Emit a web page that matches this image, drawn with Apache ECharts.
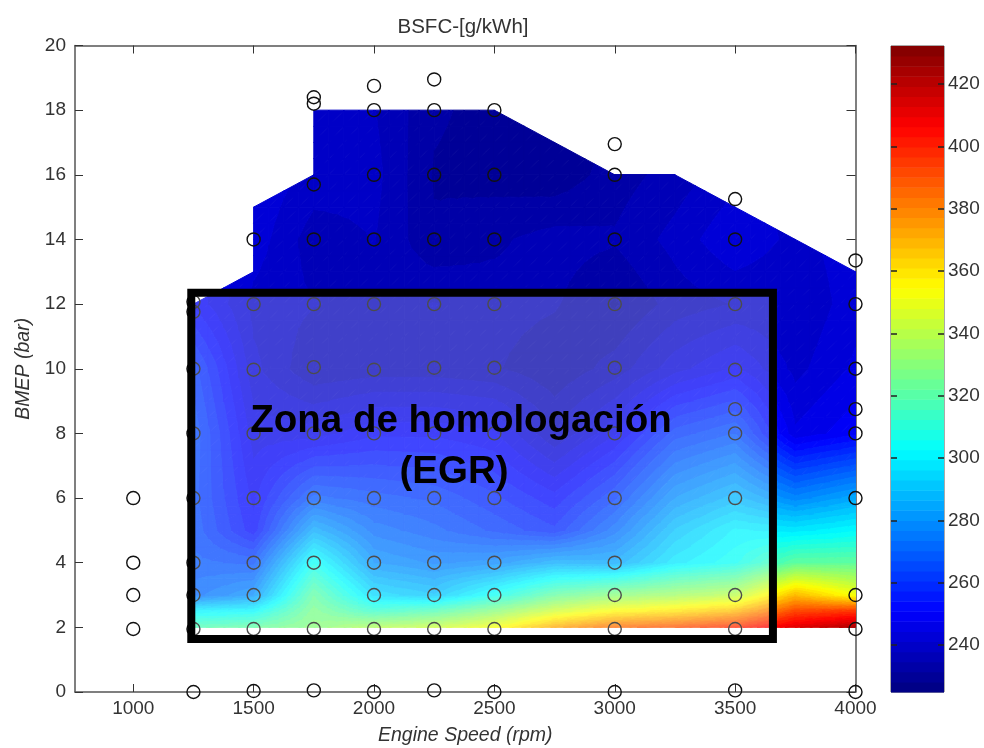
<!DOCTYPE html>
<html>
<head>
<meta charset="utf-8">
<style>
html,body{margin:0;padding:0;background:#fff}
#chart{width:984px;height:748px;filter:blur(0.45px)}
</style>
<script src="https://cdn.jsdelivr.net/npm/echarts@6/dist/echarts.min.js"></script>
</head>
<body>
<div id="chart"></div>
<script>
// ---------- axis ticks ----------
var speedTicks = [1000, 1500, 2000, 2500, 3000, 3500, 4000];
var colorTicks = [240, 260, 280, 300, 320, 340, 360, 380, 400, 420];
var colorMin = 224.9, colorMax = 432.2;

// ---------- BSFC surface, g/kWh ----------
var surfaceSpeeds = [1250, 1500, 1750, 2000, 2250, 2500, 2750, 3000, 3250, 3500, 3750, 4000];
var surfaceBmep   = [2, 2.5, 3, 4, 5, 6, 8, 10, 12, 14, 16, 18];
var bsfcAt2   = [318, 322, 330, 338, 343, 352, 372, 385, 390, 398, 412, 422];
var bsfcAt2_5 = [300, 302, 327, 313, 318, 330, 345, 355, 360, 368, 392, 395];
var bsfcAt3   = [272, 280, 322, 295, 290, 305, 322, 330, 335, 340, 368, 352];
var bsfcAt4   = [268, 266, 305, 280, 276, 278, 285, 284, 298, 305, 322, 322];
var bsfcAt5   = [266, 252, 285, 272, 268, 263, 258, 272, 290, 300, 298, 302];
var bsfcAt6   = [265, 250, 268, 265, 263, 258, 252, 263, 280, 288, 278, 285];
var bsfcAt8   = [266, 246, 246, 250, 250, 248, 238, 247, 262, 267, 245, 250];
var bsfcAt10  = [262, 242, 235, 236, 236, 235, 232, 236, 243, 248, 240, 245];
var bsfcAt12  = [250, 240, 238, 237, 238, 236, 235, 231, 236, 238, 238, 243];
var bsfcAt14  = [248, 243, 236, 238, 232, 234, 236, 235, 239, 244, 240, 243];
var bsfcAt16  = [248, 244, 240, 239, 231, 230, 229, 233, 236, 240, 240, 243];
var bsfcAt18  = [245, 244, 240, 238, 232, 230, 229, 231, 236, 240, 240, 243];
var surfaceRows = [bsfcAt2, bsfcAt2_5, bsfcAt3, bsfcAt4, bsfcAt5, bsfcAt6, bsfcAt8, bsfcAt10, bsfcAt12, bsfcAt14, bsfcAt16, bsfcAt18];

// full-load limit of the mapped area: bmep at the left and right end of each surface column
var limitLeft  = [12, 15, 18, 18, 18, 18, 17, 16, 16, 15, 14];
var limitRight = [13, 16, 18, 18, 18, 17, 16, 16, 15, 14, 13];

// ---------- measured operating points ----------
var pointsAt1000 = [1.95, 3, 4, 6];
var pointsAt1250 = [0, 1.95, 3, 4, 6, 8, 10, 11.76, 12.07];
var pointsAt1500 = [0.03, 1.95, 3, 4, 6, 8, 9.97, 12, 14];
var pointsAt1750 = [0.05, 1.95, 4, 6, 8, 10.05, 12, 14, 15.7, 18.2, 18.4];
var pointsAt2000 = [0, 1.95, 3, 4, 6, 8, 9.97, 12, 14, 16, 18, 18.75];
var pointsAt2250 = [0.05, 1.95, 3, 4, 6, 8, 10.03, 12, 14, 16, 18, 18.95];
var pointsAt2500 = [0, 1.95, 3, 4, 6, 8, 10.03, 12, 14, 16, 18];
var pointsAt3000 = [0, 1.95, 3, 4, 6, 8, 10.03, 12, 14, 16, 16.95];
var pointsAt3500 = [0.05, 1.95, 3, 6, 8, 8.75, 9.97, 12, 14, 15.25];
var pointsAt4000 = [0, 1.95, 3, 6, 8, 8.75, 10, 12, 13.35];
var pointSpeeds = [1000, 1250, 1500, 1750, 2000, 2250, 2500, 3000, 3500, 4000];
var pointColumns = [pointsAt1000, pointsAt1250, pointsAt1500, pointsAt1750, pointsAt2000, pointsAt2250, pointsAt2500, pointsAt3000, pointsAt3500, pointsAt4000];

// homologation zone outline: speed from, speed to, bmep from, bmep to
var zone = [1241, 3657, 1.64, 12.35];

// ---------- colour map ----------
var levels = 64;
function clamp01(a) { return a < 0 ? 0 : a > 1 ? 1 : a; }
function jet(t) {
  return 'rgb(' + Math.round(255 * clamp01(1.5 - Math.abs(4 * t - 3))) + ',' +
    Math.round(255 * clamp01(1.5 - Math.abs(4 * t - 2))) + ',' +
    Math.round(255 * clamp01(1.5 - Math.abs(4 * t - 1))) + ')';
}
var levelStep = (colorMax - colorMin) / levels;
function levelColor(k) { return jet((k + 0.5) / levels); }

// ---------- polygon clipping by a linear function ----------
function clipPoly(poly, f) {
  var out = [];
  for (var i = 0; i < poly.length; i++) {
    var a = poly[i], b = poly[(i + 1) % poly.length];
    var fa = f(a), fb = f(b);
    if (fa >= 0) out.push(a);
    if ((fa >= 0) !== (fb >= 0)) {
      var s = fa / (fa - fb);
      out.push([a[0] + s * (b[0] - a[0]), a[1] + s * (b[1] - a[1]), a[2] + s * (b[2] - a[2])]);
    }
  }
  return out;
}

// ---------- data items for the series ----------
var cellData = [];
for (var j = 0; j < surfaceBmep.length - 1; j++) {
  for (var i = 0; i < surfaceSpeeds.length - 1; i++) {
    cellData.push([surfaceSpeeds[i], surfaceSpeeds[i + 1], surfaceBmep[j], surfaceBmep[j + 1],
      surfaceRows[j][i], surfaceRows[j][i + 1], surfaceRows[j + 1][i], surfaceRows[j + 1][i + 1],
      limitLeft[i], limitRight[i]]);
  }
}
var pointData = [];
pointSpeeds.forEach(function (s, c) {
  pointColumns[c].forEach(function (b) { pointData.push([s, b]); });
});
var barData = [];
for (var k = 0; k < levels; k++) barData.push([k]);

var subdiv = 4;
function renderCell(params, api) {
  var x0 = api.value(0), x1 = api.value(1), y0 = api.value(2), y1 = api.value(3);
  var v00 = api.value(4), v10 = api.value(5), v01 = api.value(6), v11 = api.value(7);
  var topL = api.value(8), topR = api.value(9);
  var topF = function (p) { return topL + (topR - topL) * (p[0] - x0) / (x1 - x0) - p[1]; };
  function vert(a, b) {
    var s = a / subdiv, t = b / subdiv;
    return [x0 + s * (x1 - x0), y0 + t * (y1 - y0),
      (1 - s) * (1 - t) * v00 + s * (1 - t) * v10 + (1 - s) * t * v01 + s * t * v11];
  }
  var children = [];
  function addTri(tri) {
    var poly = clipPoly(tri, topF);
    if (poly.length < 3) return;
    var vs = poly.map(function (p) { return p[2]; });
    var kLo = Math.max(0, Math.floor((Math.min.apply(null, vs) - colorMin) / levelStep));
    var kHi = Math.min(levels - 1, Math.floor((Math.max.apply(null, vs) - colorMin) / levelStep));
    for (var k = kLo; k <= kHi; k++) {
      var lo = colorMin + k * levelStep, hi = lo + levelStep;
      var band = clipPoly(clipPoly(poly, function (p) { return p[2] - lo; }), function (p) { return hi - p[2]; });
      if (band.length < 3) continue;
      var col = levelColor(k);
      children.push({
        type: 'polygon',
        shape: { points: band.map(function (p) { return api.coord([p[0], p[1]]); }) },
        style: { fill: col, stroke: col, lineWidth: 1 }
      });
    }
  }
  for (var a = 0; a < subdiv; a++) {
    for (var b = 0; b < subdiv; b++) {
      addTri([vert(a, b), vert(a + 1, b), vert(a + 1, b + 1)]);
      addTri([vert(a, b), vert(a + 1, b + 1), vert(a, b + 1)]);
    }
  }
  return { type: 'group', children: children };
}

function renderBar(params, api) {
  var k = api.value(0);
  var a = api.coord([0, colorMin + k * levelStep]);
  var b = api.coord([1, colorMin + (k + 1) * levelStep]);
  return {
    type: 'rect',
    shape: { x: a[0], y: b[1], width: b[0] - a[0], height: a[1] - b[1] + 0.5 },
    style: { fill: levelColor(k) }
  };
}

function renderZone(params, api) {
  var a = api.coord([zone[0], zone[3]]);
  var b = api.coord([zone[1], zone[2]]);
  return {
    type: 'rect',
    shape: { x: a[0], y: a[1], width: b[0] - a[0], height: b[1] - a[1] },
    style: { fill: 'rgba(255,255,255,0.25)', stroke: '#000', lineWidth: 8 }
  };
}

var axisGrey = '#555';
var textCol = '#333';
var fontFamily = '"Liberation Sans", Arial, sans-serif';
var plainNumber = function (v) { return String(v); };
var chart = echarts.init(document.getElementById('chart'), null, { renderer: 'canvas' });
chart.setOption({
  animation: false,
  backgroundColor: '#fff',
  title: {
    text: 'BSFC-[g/kWh]', left: 458, top: 12, textAlign: 'center',
    textStyle: { fontFamily: fontFamily, fontSize: 20.5, fontWeight: 'normal', color: textCol }
  },
  grid: [
    { left: 75, top: 45.5, width: 780.5, height: 646.5, outerBoundsMode: 'none' },
    { left: 891, top: 46, width: 53, height: 646, show: true, borderColor: axisGrey, borderWidth: 1, backgroundColor: 'transparent', outerBoundsMode: 'none' }
  ],
  xAxis: [
    { type: 'value', gridIndex: 0, min: 758, max: 4000, position: 'bottom', name: 'Engine Speed (rpm)', nameLocation: 'middle', nameGap: 34,
      nameTextStyle: { fontFamily: fontFamily, fontSize: 19.5, fontStyle: 'italic', color: textCol },
      axisLine: { onZero: false, lineStyle: { color: axisGrey, width: 1.5 } },
      axisTick: { inside: true, length: 8, customValues: speedTicks, lineStyle: { color: '#333' } },
      axisLabel: { customValues: speedTicks, formatter: plainNumber, margin: 7, fontFamily: fontFamily, fontSize: 19, color: textCol, hideOverlap: false },
      splitLine: { show: false } },
    { type: 'value', gridIndex: 0, min: 758, max: 4000, position: 'top',
      axisLine: { onZero: false, lineStyle: { color: axisGrey, width: 1.5 } },
      axisTick: { inside: true, length: 8, customValues: speedTicks, lineStyle: { color: '#333' } },
      axisLabel: { show: false }, splitLine: { show: false } },
    { type: 'value', gridIndex: 1, min: 0, max: 1, show: false }
  ],
  yAxis: [
    { type: 'value', gridIndex: 0, min: 0, max: 20, interval: 2, position: 'left', name: 'BMEP (bar)', nameLocation: 'middle', nameGap: 41,
      nameTextStyle: { fontFamily: fontFamily, fontSize: 19.5, fontStyle: 'italic', color: textCol },
      axisLine: { onZero: false, lineStyle: { color: axisGrey, width: 1.5 } },
      axisTick: { inside: true, length: 8, lineStyle: { color: '#333' } },
      axisLabel: { margin: 9, fontFamily: fontFamily, fontSize: 19, color: textCol, showMinLabel: true, showMaxLabel: true },
      splitLine: { show: false } },
    { type: 'value', gridIndex: 0, min: 0, max: 20, interval: 2, position: 'right',
      axisLine: { onZero: false, lineStyle: { color: axisGrey, width: 1.5 } },
      axisTick: { inside: true, length: 9, lineStyle: { color: '#333' } },
      axisLabel: { show: false }, splitLine: { show: false } },
    { type: 'value', gridIndex: 1, min: colorMin, max: colorMax, position: 'right', z: 8,
      axisLine: { show: false, onZero: false },
      axisTick: { inside: true, length: 6, customValues: colorTicks, lineStyle: { color: '#222', width: 1.5 } },
      axisLabel: { customValues: colorTicks, formatter: plainNumber, margin: 4, fontFamily: fontFamily, fontSize: 19, color: textCol },
      splitLine: { show: false } },
    { type: 'value', gridIndex: 1, min: colorMin, max: colorMax, position: 'left', z: 8,
      axisLine: { show: false, onZero: false },
      axisTick: { inside: true, length: 6, customValues: colorTicks, lineStyle: { color: '#222', width: 1.5 } },
      axisLabel: { show: false }, splitLine: { show: false } }
  ],
  series: [
    { type: 'custom', name: 'BSFC surface', xAxisIndex: 0, yAxisIndex: 0, coordinateSystem: 'cartesian2d', silent: true, clip: true, z: 2,
      renderItem: renderCell, data: cellData, encode: { x: [0, 1], y: [2, 3] } },
    { type: 'scatter', name: 'Operating points', xAxisIndex: 0, yAxisIndex: 0, silent: true, clip: false, z: 3,
      symbol: 'circle', symbolSize: 13,
      itemStyle: { color: 'rgba(0,0,0,0)', borderColor: '#111', borderWidth: 1.4, opacity: 1 }, data: pointData },
    { type: 'custom', name: 'Homologation zone', xAxisIndex: 0, yAxisIndex: 0, coordinateSystem: 'cartesian2d', silent: true, clip: false, z: 4,
      renderItem: renderZone, data: [zone], encode: { x: [0, 1], y: [2, 3] } },
    { type: 'custom', name: 'Colour bar', xAxisIndex: 2, yAxisIndex: 2, coordinateSystem: 'cartesian2d', silent: true, z: 2,
      renderItem: renderBar, data: barData, encode: { x: [], y: [] } }
  ],
  graphic: [
    { type: 'text', z: 100, x: 461, y: 421,
      style: { text: 'Zona de homologación', fontFamily: fontFamily, fontSize: 38.5, fontWeight: 'bold', fill: '#000', textAlign: 'center', textVerticalAlign: 'middle' } },
    { type: 'text', z: 100, x: 454, y: 472,
      style: { text: '(EGR)', fontFamily: fontFamily, fontSize: 38.5, fontWeight: 'bold', fill: '#000', textAlign: 'center', textVerticalAlign: 'middle' } }
  ]
});
</script>
</body>
</html>
